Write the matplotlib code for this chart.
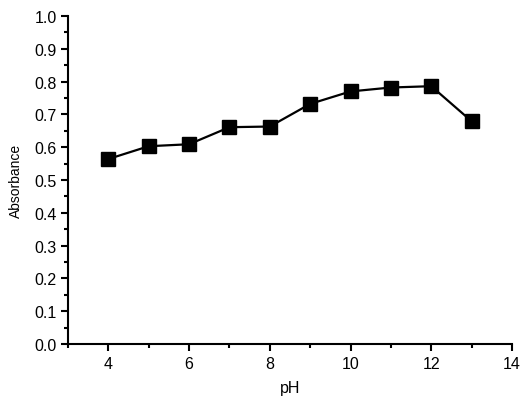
import matplotlib
matplotlib.use("Agg")
import matplotlib.pyplot as plt
from matplotlib.ticker import MultipleLocator

# ---------- data ----------
ph = [4, 5, 6, 7, 8, 9, 10, 11, 12, 13]
absorbance = [0.564, 0.603, 0.609, 0.661, 0.663, 0.732, 0.770, 0.782, 0.786, 0.679]

plt.rcParams['font.family'] = ['Liberation Sans', 'DejaVu Sans']

fig = plt.figure(figsize=(5.26, 4.10), dpi=100)
ax = fig.add_axes([68/526, 65/410, 444/526, 328/410])

ax.plot(ph, absorbance, color='black', lw=1.6, marker='s', ms=10.5,
        mfc='black', mec='black', clip_on=False)

ax.set_xlim(3, 14)
ax.set_ylim(0, 1.0)
ax.xaxis.set_major_locator(MultipleLocator(2))
ax.xaxis.set_minor_locator(MultipleLocator(1))
ax.yaxis.set_major_locator(MultipleLocator(0.1))
ax.yaxis.set_minor_locator(MultipleLocator(0.05))
ax.yaxis.set_major_formatter(plt.FuncFormatter(lambda v, p: f"{v:.1f}"))

for s in ['top', 'right']:
    ax.spines[s].set_visible(False)
for s in ['left', 'bottom']:
    ax.spines[s].set_linewidth(1.5)

ax.tick_params(which='major', direction='out', length=5, width=1.5, labelsize=11.5)
ax.tick_params(axis='y', which='major', pad=3)
ax.tick_params(axis='x', which='major', pad=4)
ax.tick_params(which='minor', direction='out', length=3, width=1.5)

ax.set_xlabel("pH", fontsize=11.5, labelpad=6)
ax.set_ylabel("Absorbance", fontsize=10, labelpad=8)

fig.savefig("out.png", dpi=100)
